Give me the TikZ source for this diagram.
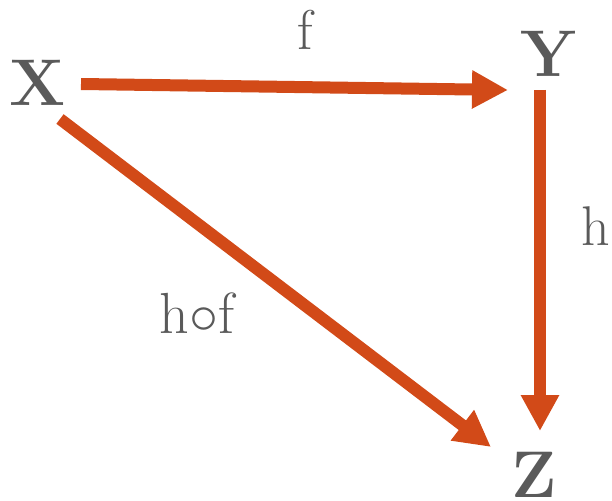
\documentclass[tikz,border=0pt]{standalone}
\usepackage{fix-cm}
\usepackage{fontspec}
\usetikzlibrary{arrows.meta}
\definecolor{arr}{RGB}{210,74,24}
\definecolor{txt}{RGB}{90,90,90}
\begin{document}
\begin{tikzpicture}[x=1pt,y=-1pt,
  obj/.style={text=txt,inner sep=0pt,anchor=base,font=\fontsize{66}{70}\selectfont\bfseries},
  lab/.style={text=txt,inner sep=0pt,anchor=base,font=\fontsize{56}{60}\selectfont},
  mor/.style={draw=arr,line width=12pt,-{Triangle[length=36pt,width=36pt]}}]
\useasboundingbox (0,0) rectangle (612,500);
\node[obj] (X) at (38,106) {X};
\node[obj] (Y) at (549,77) {Y};
\node[obj] (Z) at (534,497) {Z};
\coordinate (xs) at (81,84);
\coordinate (ye) at (508,90);
\coordinate (ys) at (540,90);
\coordinate (ze) at (540,431);
\coordinate (xd) at (60,119);
\coordinate (zd) at (491,447);
\draw[mor] (xs) -- (ye);
\draw[mor] (ys) -- (ze);
\draw[mor] (xd) -- (zd);
\node[lab] (f) at (305,50) {f};
\node[lab,anchor=base west] (h) at (581,245) {h};
\node[lab,font=\fontsize{58}{62}\selectfont] (hf) at (197,333) {h$\circ$f};
\end{tikzpicture}
\end{document}
